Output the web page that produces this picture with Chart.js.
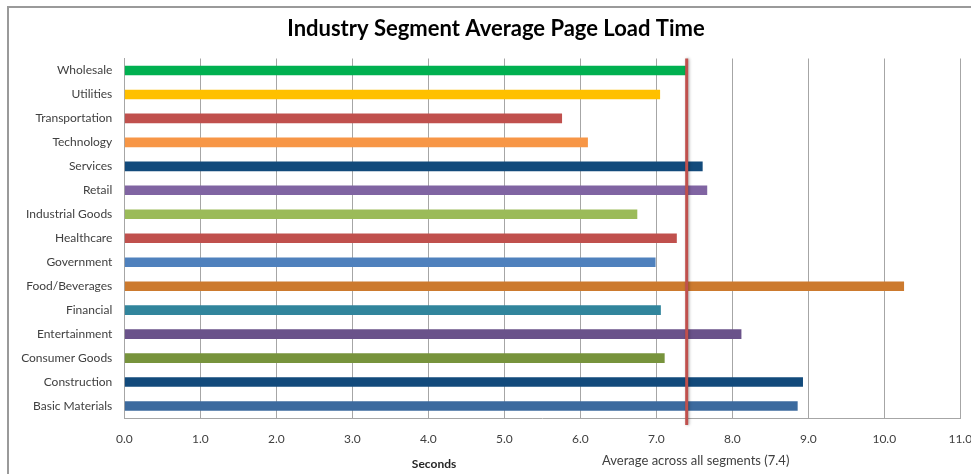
<!DOCTYPE html>
<html>
<head>
<meta charset="utf-8">
<script src="https://cdn.jsdelivr.net/npm/chart.js@4/dist/chart.umd.min.js"></script>
<style>
  html, body { margin: 0; padding: 0; background: #ffffff; }
  #wrap { width: 971px; height: 474px; position: relative; }
</style>
</head>
<body>
<div id="wrap"><canvas id="chart" width="971" height="474"></canvas></div>
<script>
// Industry segments, listed top to bottom
const segments = [
  'Wholesale', 'Utilities', 'Transportation', 'Technology', 'Services',
  'Retail', 'Industrial Goods', 'Healthcare', 'Government', 'Food/Beverages',
  'Financial', 'Entertainment', 'Consumer Goods', 'Construction', 'Basic Materials'
];

// Average page load time per segment, in seconds
const loadTimes = [
  7.39, 7.05, 5.76, 6.10, 7.61,
  7.67, 6.75, 7.27, 6.99, 10.26,
  7.06, 8.12, 7.11, 8.93, 8.86
];

// Average across all segments
const overallAverage = 7.4;

// Bar colours, one per segment
const segmentColors = [
  '#00B050', '#FFC000', '#C0504D', '#F79646', '#124A7B',
  '#8064A2', '#9BBB59', '#C0504D', '#4F81BD', '#CC7A2E',
  '#31859C', '#6A528A', '#77933C', '#124A7B', '#3C6A9E'
];

// Axis range and tick step
const axisMin = 0;
const axisMax = 11;
const axisStep = 1;

const chartTitle = 'Industry Segment Average Page Load Time';

const FONT = 'Lato, "Open Sans", "DejaVu Sans", sans-serif';
const GRID = '#A6A6A6';

// Outer frame and title
const framePlugin = {
  id: 'frame',
  beforeDraw(chart) {
    const ctx = chart.ctx;
    ctx.save();
    ctx.strokeStyle = '#9A9A9A';
    ctx.lineWidth = 2;
    ctx.strokeRect(8, 7, chart.width + 20, chart.height + 20);
    ctx.fillStyle = '#000000';
    ctx.font = 'bold 22px ' + FONT;
    ctx.textAlign = 'center';
    ctx.textBaseline = 'middle';
    ctx.fillText(chartTitle, 496, 29);
    ctx.restore();
  }
};

// Vertical marker for the overall average, plus the axis captions
const averagePlugin = {
  id: 'averageLine',
  afterDatasetsDraw(chart) {
    const ctx = chart.ctx;
    const area = chart.chartArea;
    const x = chart.scales.x.getPixelForValue(overallAverage);
    ctx.save();
    ctx.shadowColor = 'rgba(0,0,0,0.35)';
    ctx.shadowBlur = 3;
    ctx.shadowOffsetX = 1;
    ctx.strokeStyle = '#C0504D';
    ctx.lineWidth = 3;
    ctx.beginPath();
    ctx.moveTo(x, area.top);
    ctx.lineTo(x, area.bottom + 7);
    ctx.stroke();
    ctx.restore();
  },
  afterDraw(chart) {
    const ctx = chart.ctx;
    const area = chart.chartArea;
    const xAvg = chart.scales.x.getPixelForValue(overallAverage);
    ctx.save();
    ctx.textBaseline = 'middle';
    ctx.textAlign = 'center';
    ctx.fillStyle = '#262626';
    ctx.font = 'bold 12px ' + FONT;
    ctx.fillText('Seconds', area.left + (area.right - area.left) * 0.3705, area.bottom + 46);
    ctx.fillStyle = '#404040';
    ctx.font = '13px ' + FONT;
    ctx.fillText('Average across all segments (' + overallAverage.toFixed(1) + ')', xAvg + 9, area.bottom + 43);
    ctx.restore();
  }
};

new Chart(document.getElementById('chart'), {
  type: 'bar',
  data: {
    labels: segments,
    datasets: [{
      data: loadTimes,
      backgroundColor: segmentColors,
      borderWidth: 0,
      categoryPercentage: 1.0,
      barPercentage: 0.4
    }]
  },
  options: {
    indexAxis: 'y',
    responsive: false,
    animation: false,
    events: [],
    layout: { padding: { left: 0, right: 10.7, top: 58.5, bottom: 0 } },
    plugins: {
      legend: { display: false },
      tooltip: { enabled: false },
      title: { display: false }
    },
    scales: {
      x: {
        type: 'linear',
        min: axisMin,
        max: axisMax,
        grid: { display: true, color: GRID, lineWidth: 1, drawTicks: false },
        border: { display: true, color: GRID, width: 1 },
        ticks: {
          stepSize: axisStep,
          padding: 14,
          color: '#404040',
          font: { family: FONT, size: 12 },
          callback: v => Number(v).toFixed(1)
        },
        afterFit(scale) {
          scale.height = 56;
          scale.paddingLeft = 0;
          scale.paddingRight = 0;
        }
      },
      y: {
        grid: { display: false, drawTicks: false },
        border: { display: true, color: GRID, width: 1 },
        ticks: {
          padding: 12,
          color: '#404040',
          font: { family: FONT, size: 12 }
        },
        afterFit(scale) {
          scale.width = 124.3;
          scale.paddingTop = 0;
          scale.paddingBottom = 0;
        }
      }
    }
  },
  plugins: [framePlugin, averagePlugin]
});
</script>
</body>
</html>
